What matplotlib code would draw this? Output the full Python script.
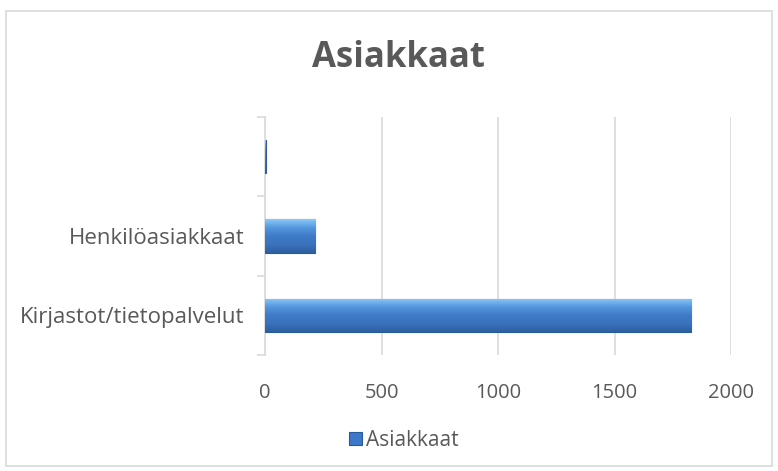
import matplotlib
matplotlib.use("Agg")
import matplotlib.pyplot as plt
import numpy as np
from matplotlib.patches import Rectangle
from matplotlib.colors import LinearSegmentedColormap

categories = ["Kirjastot/tietopalvelut", "Henkilöasiakkaat", ""]
values = [1830, 215, 3]
series_name = "Asiakkaat"
xticks = [0, 500, 1000, 1500, 2000]

plt.rcParams['font.family'] = ['Open Sans', 'DejaVu Sans']

fig = plt.figure(figsize=(7.78, 4.71), dpi=100)
# outer chart border
fig.patches.append(Rectangle((6/778, 1 - 466/471), 766/778, 455/471, transform=fig.transFigure,
                             fill=False, edgecolor='#d9d9d9', linewidth=1.2))

ax = fig.add_axes([265/778, 1 - 355/471, 466/778, 238/471])
y = np.arange(len(categories))
bars = ax.barh(y, values, height=0.42, color='#3b78c8', edgecolor='#2a5a9a', linewidth=0.8, zorder=3,
               label=series_name)

# vertical gradient on each bar
grad = np.linspace(0, 1, 256).reshape(-1, 1)
cmap = LinearSegmentedColormap.from_list('b', ['#8ccaf8', '#5598de', '#3f7bc8', '#3a72bc', '#2d5f9e'])
for b in bars:
    x0, y0 = b.get_x(), b.get_y()
    w, h = b.get_width(), b.get_height()
    im = ax.imshow(grad, extent=[x0, x0 + w, y0, y0 + h], aspect='auto', cmap=cmap, zorder=3.5,
                   origin='upper')
    im.set_clip_path(b)

ax.set_xlim(0, 2000)
ax.set_ylim(-0.5, 2.5)
ax.set_xticks(xticks)
ax.set_xticklabels([str(t) for t in xticks])
ax.set_yticks(y)
ax.set_yticklabels(categories)
ax.set_yticks([-0.5, 0.5, 1.5, 2.5], minor=True)
ax.tick_params(axis='y', which='major', length=0, pad=15, labelsize=16, labelcolor='#595959')
ax.tick_params(axis='y', which='minor', length=6, color='#d9d9d9', width=1.2)
ax.tick_params(axis='x', length=0, pad=20, labelsize=14.5, labelcolor='#595959')
ax.grid(axis='x', color='#d9d9d9', linewidth=1.2, zorder=0)
for s in ['top', 'right', 'bottom']:
    ax.spines[s].set_visible(False)
ax.spines['left'].set_color('#d9d9d9')
ax.spines['left'].set_linewidth(1.2)

fig.text(398/778, 1 - 58/471, "Asiakkaat", ha='center', va='center', fontsize=25, fontweight='bold',
         color='#595959')

leg = fig.legend(handles=[bars], labels=[series_name], loc='center', bbox_to_anchor=(404/778, 1 - 440/471),
                 frameon=False, fontsize=15, handlelength=0.6, handleheight=0.6, handletextpad=0.2)
for t in leg.get_texts():
    t.set_color('#595959')

fig.savefig("out.png", dpi=100)
